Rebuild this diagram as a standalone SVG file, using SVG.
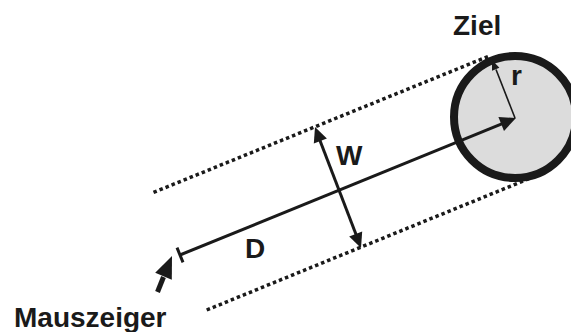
<svg xmlns="http://www.w3.org/2000/svg" width="571" height="332" viewBox="0 0 571 332">
<style>
.lbl{font-family:"Liberation Sans",Arial,sans-serif;font-weight:bold;font-size:28px;fill:#1a1a1a}
.dot{fill:none;stroke:#1a1a1a;stroke-width:3.5;stroke-dasharray:3.5 3}
.ln{fill:none;stroke:#1a1a1a;stroke-width:3}
.hd{fill:#1a1a1a;stroke:none}
</style>
<rect width="571" height="332" fill="#ffffff"/>
<g id="connectors">
<line class="dot" x1="153.5" y1="192.4" x2="488" y2="56.5"/>
<line class="dot" x1="206.7" y1="310" x2="538" y2="175"/>
</g>
<g id="ziel">
<circle cx="515" cy="117" r="61" fill="#dcdcdc" stroke="#1a1a1a" stroke-width="8"/>
<text class="lbl" x="453" y="35">Ziel</text>
</g>
<g id="radius">
<line x1="515" y1="118" x2="496" y2="69.5" stroke="#1a1a1a" stroke-width="1.6"/>
<polygon class="hd" points="492,60 499.4,67.8 492,70.8"/>
<text class="lbl" x="511" y="85">r</text>
</g>
<g id="distance">
<line class="ln" x1="180" y1="255" x2="503" y2="123.3"/>
<line class="ln" x1="183" y1="262.4" x2="177" y2="247.6"/>
<polygon class="hd" points="516,118 504,130.9 498.4,117.1"/>
<text class="lbl" x="245" y="258">D</text>
</g>
<g id="width">
<line class="ln" x1="319" y1="138" x2="357" y2="237"/>
<polygon class="hd" points="315,127 326.9,138.5 313.8,143.5"/>
<polygon class="hd" points="361,248 362.2,231.5 349.2,236.5"/>
<text class="lbl" x="336" y="165">W</text>
</g>
<g id="mauszeiger">
<line x1="157.5" y1="292" x2="163.5" y2="277" stroke="#1a1a1a" stroke-width="5"/>
<polygon class="hd" points="172,256 171.8,279.8 155.2,272.8"/>
<text class="lbl" x="14" y="327">Mauszeiger</text>
</g>
</svg>
